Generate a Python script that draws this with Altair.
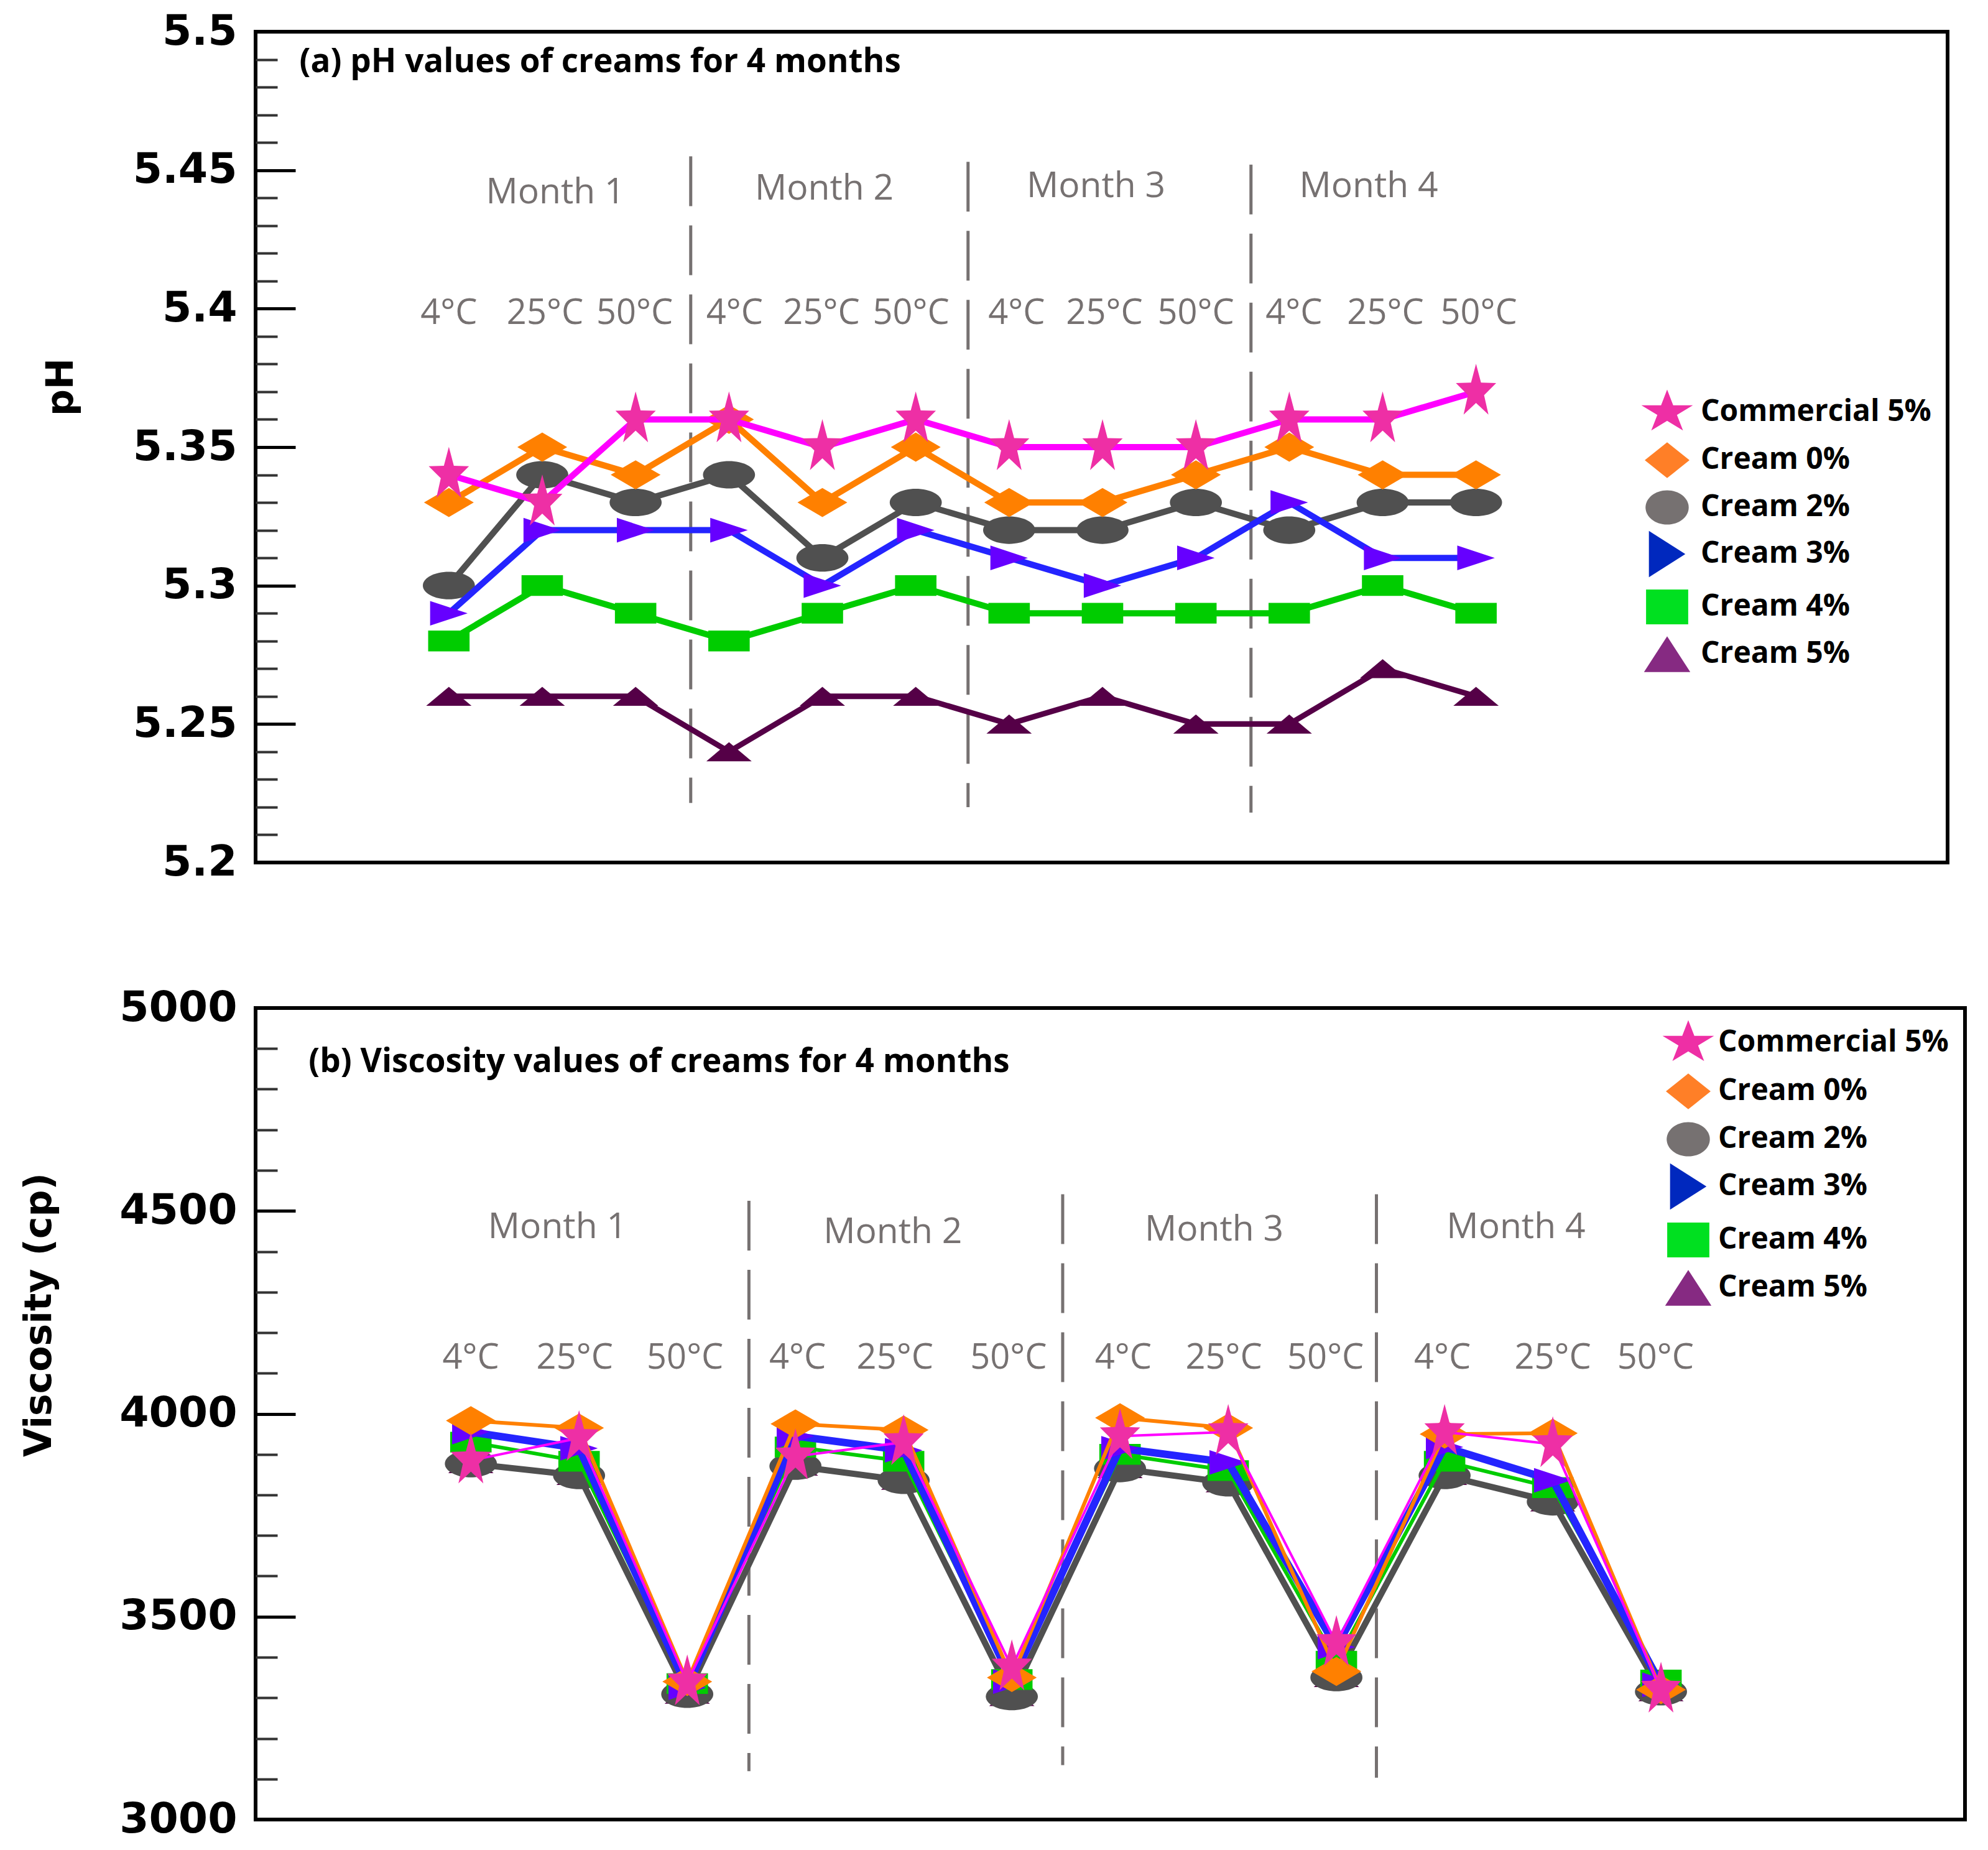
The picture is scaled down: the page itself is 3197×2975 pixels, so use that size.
import altair as alt
import pandas as pd

# ---------------- data ----------------
point_index = list(range(1, 13))
series_names = ["Commercial 5%", "Cream 0%", "Cream 2%", "Cream 3%", "Cream 4%", "Cream 5%"]

ph_commercial = [5.34, 5.33, 5.36, 5.36, 5.35, 5.36, 5.35, 5.35, 5.35, 5.36, 5.36, 5.37]
ph_cream0 = [5.33, 5.35, 5.34, 5.36, 5.33, 5.35, 5.33, 5.33, 5.34, 5.35, 5.34, 5.34]
ph_cream2 = [5.30, 5.34, 5.33, 5.34, 5.31, 5.33, 5.32, 5.32, 5.33, 5.32, 5.33, 5.33]
ph_cream3 = [5.29, 5.32, 5.32, 5.32, 5.30, 5.32, 5.31, 5.30, 5.31, 5.33, 5.31, 5.31]
ph_cream4 = [5.28, 5.30, 5.29, 5.28, 5.29, 5.30, 5.29, 5.29, 5.29, 5.29, 5.30, 5.29]
ph_cream5 = [5.26, 5.26, 5.26, 5.24, 5.26, 5.26, 5.25, 5.26, 5.25, 5.25, 5.27, 5.26]

visc_commercial = [3885, 3940, 3338, 3895, 3930, 3375, 3945, 3955, 3435, 3955, 3925, 3320]
visc_cream0 = [3983, 3965, 3340, 3975, 3960, 3350, 3990, 3965, 3365, 3950, 3952, 3320]
visc_cream2 = [3877, 3848, 3309, 3871, 3836, 3303, 3865, 3830, 3350, 3848, 3783, 3315]
visc_cream3 = [3955, 3915, 3325, 3945, 3910, 3340, 3915, 3880, 3425, 3918, 3836, 3332]
visc_cream4 = [3930, 3883, 3335, 3918, 3883, 3345, 3900, 3860, 3390, 3883, 3818, 3344]
visc_cream5 = [3877, 3848, 3309, 3871, 3836, 3303, 3865, 3830, 3350, 3848, 3783, 3315]

month_labels = ["Month 1", "Month 2", "Month 3", "Month 4"]
temp_labels = ["4°C", "25°C", "50°C"] * 4

ph_major_ticks = [5.2, 5.25, 5.3, 5.35, 5.4, 5.45, 5.5]
ph_minor_ticks = [round(5.2 + 0.01 * k, 2) for k in range(31) if k % 5 != 0]
visc_major_ticks = [3000, 3500, 4000, 4500, 5000]
visc_minor_ticks = [3000 + 100 * k for k in range(21) if k % 5 != 0]

# annotation anchors (data units)
ph_heading_pos = (-0.6, 5.489)
ph_month_x = [2.14, 5.02, 7.93, 10.85]
ph_month_y = [5.4418, 5.4432, 5.4441, 5.4441]
ph_temp_x = [1.0, 2.03, 2.99, 4.06, 4.99, 5.95, 7.08, 8.02, 9.0, 10.05, 11.03, 12.03]
ph_temp_y = 5.3983
ph_div_x = [3.59, 6.56, 9.59]
ph_div_top = [5.455, 5.453, 5.452]
ph_div_bottom = [5.2215, 5.22, 5.218]

visc_heading_pos = (-0.5, 4866)
visc_month_x = [1.80, 4.90, 7.87, 10.66]
visc_month_y = [4459, 4447, 4453, 4459]
visc_temp_x = [1.0, 1.96, 2.98, 4.02, 4.92, 5.97, 7.03, 7.96, 8.9, 9.98, 11.0, 11.95]
visc_temp_y = 4137
visc_div_x = [3.57, 6.47, 9.37]
visc_div_top = [4525, 4541, 4541]
visc_div_bottom = [3119, 3134, 3103]

# ---------------- styles ----------------
legend_colors = ["#EE2FA5", "#FF7F27", "#767171", "#0028BE", "#00E020", "#862A82"]
marker_colors = ["#EE2FA5", "#FF8000", "#505050", "#6600FF", "#00CC00", "#550047"]
line_colors = ["#FF00FF", "#FF8000", "#505050", "#2424FF", "#00CC00", "#550047"]
marker_paths = [
    "M0,-1L0.178,-0.324L0.72,-0.309L0.288,0.124L0.445,0.82L0,0.4L-0.445,0.82L-0.288,0.124L-0.72,-0.309L-0.178,-0.324Z",
    "M-0.89,0L0,-0.52L0.89,0L0,0.52Z",
    "M-0.93,0A0.93,0.49 0 1,0 0.93,0A0.93,0.49 0 1,0 -0.93,0Z",
    "M-0.67,-0.44L0.67,0L-0.67,0.44Z",
    "M-0.74,-0.37L0.74,-0.37L0.74,0.37L-0.74,0.37Z",
    "M0,-0.34L0.81,0.34L-0.81,0.34Z",
]
legend_paths = [
    "M0,-0.87L0.233,-0.267L0.99,-0.27L0.377,0.102L0.61,0.7L0,0.33L-0.61,0.7L-0.377,0.102L-0.99,-0.27L-0.233,-0.267Z",
    "M-0.86,0L0,-0.69L0.86,0L0,0.69Z",
    "M-0.83,0A0.83,0.66 0 1,0 0.83,0A0.83,0.66 0 1,0 -0.83,0Z",
    "M-0.7,-0.89L0.7,0L-0.7,0.89Z",
    "M-0.81,-0.67L0.81,-0.67L0.81,0.67L-0.81,0.67Z",
    "M0,-0.69L0.89,0.69L-0.89,0.69Z",
]
draw_order = ["Cream 5%", "Cream 2%", "Cream 4%", "Cream 3%", "Cream 0%", "Commercial 5%"]
ph_line_widths = [10, 10, 10, 10, 10, 9]
visc_line_widths = [4, 6, 10, 12, 6, 8]

GRAY = "#767171"
TEXT_FONT = "Open Sans"
AXIS_FONT = "DejaVu Sans"


def long_table(series_lists):
    rows = []
    for name, vals in zip(series_names, series_lists):
        for i, v in zip(point_index, vals):
            rows.append({"series": name, "idx": i, "value": v})
    return pd.DataFrame(rows)


def make_panel(df, xdom, ydom, major, minor, fmt, ytitle, title_x, title_y,
               line_widths, legend_x, legend_y, label_offset, row_padding,
               heading, heading_pos, month_x, month_y, temp_x, temp_y,
               div_x, div_top, div_bottom, width, height):
    xs = alt.Scale(domain=xdom, nice=False, zero=False)
    ys = alt.Scale(domain=ydom, nice=False, zero=False)
    color_scale = alt.Scale(domain=series_names, range=legend_colors)
    legend_shape_scale = alt.Scale(domain=series_names, range=legend_paths)
    leg = alt.Legend(title=None, orient="none", legendX=legend_x, legendY=legend_y,
                     symbolSize=7000, symbolStrokeWidth=0, symbolOpacity=1,
                     labelFont=TEXT_FONT, labelFontSize=48, labelFontWeight="bold",
                     labelColor="black", labelOffset=label_offset, rowPadding=row_padding,
                     labelLimit=0)

    major_axis = alt.Axis(values=major, format=fmt, orient="left", offset=-64, tickSize=64,
                          tickWidth=5, tickColor="black", domain=False, grid=False,
                          labelFont=AXIS_FONT, labelFontWeight="bold", labelFontSize=68,
                          labelColor="black", labelPadding=30, labelLimit=500,
                          title=ytitle, titleFont=AXIS_FONT, titleFontWeight="bold",
                          titleFontSize=60, titleColor="black", titleX=title_x, titleY=title_y,
                          titleBaseline="middle", titleAngle=270, titleLimit=1000)
    minor_axis = alt.Axis(values=minor, orient="left", offset=-35, tickSize=35, tickWidth=4,
                          tickColor="#333333", domain=False, grid=False, labels=False, title=None)

    div_df = pd.DataFrame({"x": div_x, "y1": div_top, "y2": div_bottom})
    dividers = alt.Chart(div_df).mark_rule(color=GRAY, strokeWidth=5, strokeDash=[80, 31]).encode(
        x=alt.X("x:Q", scale=xs, axis=None),
        y=alt.Y("y1:Q", scale=ys, axis=major_axis),
        y2="y2:Q",
    )

    temp_df = pd.DataFrame({"x": temp_x, "y": [temp_y] * len(temp_x), "t": temp_labels})
    temps = alt.Chart(temp_df).mark_text(font=TEXT_FONT, fontSize=56, color=GRAY,
                                         align="center", baseline="middle").encode(
        x=alt.X("x:Q", scale=xs, axis=None),
        y=alt.Y("y:Q", scale=ys, axis=minor_axis),
        text="t:N",
    )

    month_df = pd.DataFrame({"x": month_x, "y": month_y, "t": month_labels})
    months = alt.Chart(month_df).mark_text(font=TEXT_FONT, fontSize=57, color=GRAY,
                                           align="center", baseline="middle").encode(
        x=alt.X("x:Q", scale=xs, axis=None),
        y=alt.Y("y:Q", scale=ys, axis=None),
        text="t:N",
    )

    head_df = pd.DataFrame({"x": [heading_pos[0]], "y": [heading_pos[1]], "t": [heading]})
    head = alt.Chart(head_df).mark_text(font=TEXT_FONT, fontSize=53, fontWeight="bold",
                                        color="black", align="left", baseline="middle").encode(
        x=alt.X("x:Q", scale=xs, axis=None),
        y=alt.Y("y:Q", scale=ys, axis=None),
        text="t:N",
    )

    # invisible layer that only carries the legend (legend colours differ slightly from markers)
    legend_layer = alt.Chart(df).mark_point(filled=True, opacity=0, size=10).encode(
        x=alt.X("idx:Q", scale=xs, axis=None),
        y=alt.Y("value:Q", scale=ys, axis=None),
        color=alt.Color("series:N", scale=color_scale, legend=leg),
        shape=alt.Shape("series:N", scale=legend_shape_scale, legend=leg),
    )

    layers = [dividers, temps, months, head, legend_layer]
    for name in draw_order:
        k = series_names.index(name)
        sub = df[df["series"] == name]
        line = alt.Chart(sub).mark_line(color=line_colors[k], strokeWidth=line_widths[k]).encode(
            x=alt.X("idx:Q", scale=xs, axis=None),
            y=alt.Y("value:Q", scale=ys, axis=None),
        )
        pts = alt.Chart(sub).mark_point(filled=True, shape=marker_paths[k], color=marker_colors[k],
                                        size=8100, opacity=1, strokeWidth=0).encode(
            x=alt.X("idx:Q", scale=xs, axis=None),
            y=alt.Y("value:Q", scale=ys, axis=None),
        )
        layers += [line, pts]

    return (alt.layer(*layers)
            .resolve_axis(y="independent")
            .properties(width=width, height=height))


ph_df = long_table([ph_commercial, ph_cream0, ph_cream2, ph_cream3, ph_cream4, ph_cream5])
visc_df = long_table([visc_commercial, visc_cream0, visc_cream2, visc_cream3, visc_cream4, visc_cream5])

top = make_panel(ph_df, [-1.07, 17.05], [5.2, 5.5], ph_major_ticks, ph_minor_ticks, ".2~f", "pH",
                 -377, 571, ph_line_widths, 2228, 570, 12, 5,
                 "(a) pH values of creams for 4 months", ph_heading_pos,
                 ph_month_x, ph_month_y, ph_temp_x, ph_temp_y,
                 ph_div_x, ph_div_top, ph_div_bottom, 2721, 1336)

bottom = make_panel(visc_df, [-0.99, 14.81], [3000, 5000], visc_major_ticks, visc_minor_ticks, "d",
                    "Viscosity (cp)", -412, 493, visc_line_widths, 2262, 14, 6, 6,
                    "(b) Viscosity values of creams for 4 months", visc_heading_pos,
                    visc_month_x, visc_month_y, visc_temp_x, visc_temp_y,
                    visc_div_x, visc_div_top, visc_div_bottom, 2749, 1305)

chart = (alt.vconcat(top, bottom, spacing=160)
         .resolve_scale(color="independent", shape="independent")
         .resolve_legend(color="independent", shape="independent")
         .properties(padding={"left": 22, "top": 6, "right": 5, "bottom": 5}, background="white")
         .configure_view(stroke="black", strokeWidth=6))

chart.save("out.html", embed_options={"renderer": "svg", "actions": False})
